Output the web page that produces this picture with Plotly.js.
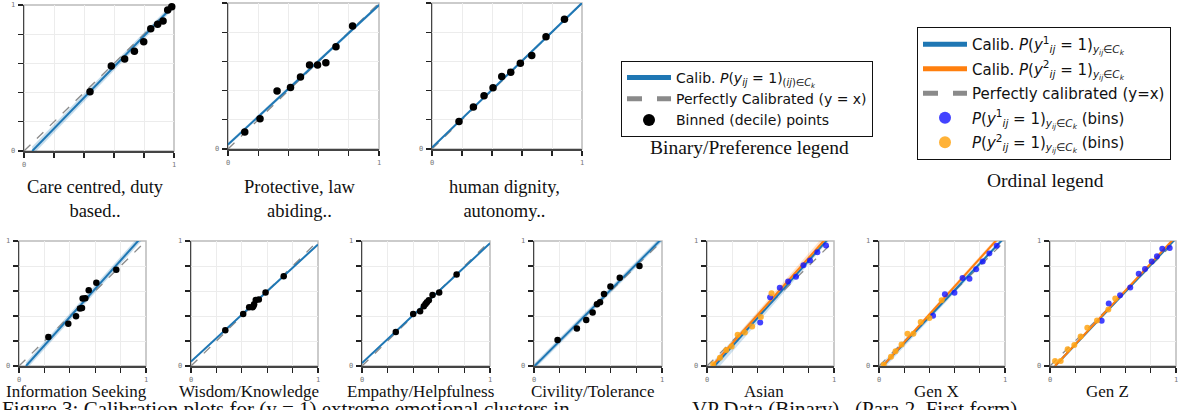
<!DOCTYPE html>
<html><head><meta charset="utf-8">
<script src="https://cdn.plot.ly/plotly-3.0.1.min.js"></script>
<style>html,body{margin:0;padding:0;background:#fff;}#chart{width:1182px;height:410px;}</style>
</head><body><div id="chart"></div>
<script>
// ---------------- DATA ----------------
const panelTitles = ["Care centred, duty<br>based..", "Protective, law<br>abiding..", "human dignity,<br>autonomy..",
  "Information Seeking", "Wisdom/Knowledge", "Empathy/Helpfulness", "Civility/Tolerance", "Asian", "Gen X", "Gen Z"];

// binary panels: binned (decile) points
const careX = [0.44,0.582,0.671,0.736,0.798,0.845,0.891,0.927,0.958,0.985];
const careY = [0.406,0.582,0.63,0.683,0.749,0.838,0.868,0.89,0.966,0.988];
const protX = [0.111,0.212,0.325,0.414,0.48,0.54,0.593,0.648,0.715,0.825];
const protY = [0.116,0.207,0.398,0.422,0.494,0.576,0.576,0.59,0.70,0.843];
const dignX = [0.18,0.276,0.347,0.407,0.465,0.525,0.589,0.665,0.76,0.883];
const dignY = [0.189,0.287,0.364,0.419,0.497,0.526,0.588,0.64,0.768,0.889];
const infoX = [0.231,0.388,0.449,0.48,0.496,0.501,0.522,0.549,0.609,0.766];
const infoY = [0.233,0.339,0.398,0.46,0.465,0.54,0.543,0.607,0.666,0.77];
const wisdX = [0.27,0.411,0.458,0.485,0.492,0.497,0.51,0.534,0.587,0.73];
const wisdY = [0.286,0.417,0.47,0.47,0.48,0.494,0.529,0.532,0.588,0.719];
const empX  = [0.264,0.40,0.454,0.483,0.496,0.507,0.522,0.551,0.603,0.739];
const empY  = [0.273,0.417,0.439,0.479,0.497,0.511,0.527,0.569,0.588,0.732];
const civX  = [0.184,0.335,0.408,0.458,0.492,0.516,0.547,0.597,0.67,0.824];
const civY  = [0.209,0.30,0.369,0.428,0.495,0.511,0.577,0.636,0.706,0.80];

// binary calibration fits: [start, end] and CI half-widths
const careFitX = [0.055,1], careFitY = [0,1.0],  careBand = [0.03,0.022];
const protFitX = [0,1],     protFitY = [0.03,0.986], protBand = [0.012,0.012];
const dignFitX = [0,1],     dignFitY = [0.01,1.0],  dignBand = [0.01,0.01];
const infoFitX = [0.055,1], infoFitY = [0,1.071], infoBand = [0.03,0.03];
const wisdFitX = [0,1],     wisdFitY = [0.035,0.973], wisdBand = [0.008,0.008];
const empFitX  = [0,1],     empFitY  = [0.024,0.982], empBand = [0.008,0.008];
const civFitX  = [0.005,1], civFitY  = [0,1.02],  civBand = [0.025,0.025];

// ordinal panels: bins for level 1 (blue) and level 2 (orange)
const asianB1X = [0.419,0.497,0.573,0.639,0.701,0.759,0.811,0.869,0.937];
const asianB1Y = [0.349,0.551,0.626,0.677,0.715,0.806,0.844,0.911,0.965];
const asianB2X = [0.049,0.102,0.152,0.194,0.241,0.298,0.356,0.424,0.508];
const asianB2Y = [0.014,0.067,0.129,0.156,0.25,0.269,0.317,0.393,0.583];
const genXB1X = [0.429,0.523,0.599,0.663,0.718,0.771,0.823,0.876,0.934];
const genXB1Y = [0.403,0.575,0.586,0.704,0.699,0.774,0.836,0.901,0.962];
const genXB2X = [0.037,0.095,0.131,0.179,0.226,0.273,0.331,0.40,0.497];
const genXB2Y = [0.011,0.075,0.118,0.172,0.258,0.258,0.352,0.385,0.527];
const genZB1X = [0.41,0.466,0.556,0.637,0.704,0.754,0.807,0.849,0.891,0.95];
const genZB1Y = [0.363,0.50,0.567,0.629,0.739,0.777,0.836,0.879,0.938,0.944];
const genZB2X = [0.04,0.085,0.14,0.193,0.243,0.296,0.373,0.463,0.518];
const genZB2Y = [0.04,0.04,0.135,0.169,0.236,0.306,0.365,0.452,0.54];

// ordinal fits
const asianF1X = [0.06,1], asianF1Y = [0,1.07],  asianF1Band = [0.05,0.02];
const asianF2X = [0.04,1], asianF2Y = [0,1.093], asianF2Band = [0.02,0.04];
const genXF1X = [0.03,1],  genXF1Y = [0,1.032],  genXF1Band = [0.03,0.015];
const genXF2X = [0.03,1],  genXF2Y = [0,1.083],  genXF2Band = [0.015,0.02];
const genZF1X = [0.04,1],  genZF1Y = [0,1.021],  genZF1Band = [0.015,0.01];
const genZF2X = [0.04,1],  genZF2Y = [0,1.037],  genZF2Band = [0.01,0.012];

const diagX = [0,1], diagY = [0,1];

// ---------------- LAYOUT GEOMETRY (pixels) ----------------
const W = 1182, H = 410;
const boxes = [
  [24,174,5,151],[228,379,3,149],[432,582,3,149],
  [19,146,241,366],[191,318,241,366],[362,490,241,366],[534,662,241,366],
  [707,834,241,366],[879,1005,241,366],[1050,1176,241,366]
];
const BLUE = '#1f77b4', ORANGE = '#ff7f0e';

const traces = [];
const layout = {
  width: W, height: H, margin:{l:0,r:0,t:0,b:0},
  paper_bgcolor:'#fff', plot_bgcolor:'#fff',
  showlegend: true, annotations: [], shapes: [],
  font:{family:'DejaVu Sans', color:'#000'}
};

function ax(i){ return i===0 ? '' : String(i+1); }
let gid = 0;
function leg(name, which, rank){ gid++; return {showlegend:true, legend:which, legendrank:rank, legendgroup:'g'+gid, name:name}; }

function band(i, fx, fy, w, color){
  const s = ax(i);
  traces.push({type:'scatter', mode:'lines', xaxis:'x'+s, yaxis:'y'+s,
    x:[fx[0],fx[1],fx[1],fx[0],fx[0]], y:[fy[0]+w[0],fy[1]+w[1],fy[1]-w[1],fy[0]-w[0],fy[0]+w[0]],
    fill:'toself', fillcolor:color, line:{width:0}, showlegend:false, hoverinfo:'skip'});
}
function line(i, fx, fy, color, opts){
  const s = ax(i);
  traces.push(Object.assign({type:'scatter', mode:'lines', xaxis:'x'+s, yaxis:'y'+s,
    x:fx, y:fy, line:{color:color, width:2}, showlegend:false}, opts||{}));
}
function diag(i, opts){
  const s = ax(i);
  traces.push(Object.assign({type:'scatter', mode:'lines', xaxis:'x'+s, yaxis:'y'+s,
    x:diagX, y:diagY, line:{color:'#8a8a8a', width:1.3, dash:'dash'}, showlegend:false}, opts||{}));
}
function pts(i, x, y, color, size, opts){
  const s = ax(i);
  traces.push(Object.assign({type:'scatter', mode:'markers', xaxis:'x'+s, yaxis:'y'+s,
    x:x, y:y, marker:{color:color, size:size, line:{width:0}}, cliponaxis:false, showlegend:false}, opts||{}));
}

// binary panels
const binData = [
  [careX,careY,careFitX,careFitY,careBand],
  [protX,protY,protFitX,protFitY,protBand],
  [dignX,dignY,dignFitX,dignFitY,dignBand],
  [infoX,infoY,infoFitX,infoFitY,infoBand],
  [wisdX,wisdY,wisdFitX,wisdFitY,wisdBand],
  [empX,empY,empFitX,empFitY,empBand],
  [civX,civY,civFitX,civFitY,civBand]
];
binData.forEach((d,i)=>{
  const first = i===0;
  band(i, d[2], d[3], d[4], 'rgba(31,119,180,0.25)');
  diag(i, first ? leg('Perfectly Calibrated (y = x)','legend',2) : {});
  line(i, d[2], d[3], BLUE, first ? leg('Calib. <i>P</i>(<i>y<sub>ij</sub></i> = 1)<sub>(<i>ij</i>)∈<i>C<sub>k</sub></i></sub>','legend',1) : {});
  pts(i, d[0], d[1], '#000', i<3 ? 7.5 : 6.5, first ? leg('Binned (decile) points','legend',3) : {});
});

// ordinal panels
const ordData = [
  [asianB1X,asianB1Y,asianB2X,asianB2Y,asianF1X,asianF1Y,asianF1Band,asianF2X,asianF2Y,asianF2Band],
  [genXB1X,genXB1Y,genXB2X,genXB2Y,genXF1X,genXF1Y,genXF1Band,genXF2X,genXF2Y,genXF2Band],
  [genZB1X,genZB1Y,genZB2X,genZB2Y,genZF1X,genZF1Y,genZF1Band,genZF2X,genZF2Y,genZF2Band]
];
const sub = '<sub><i>y<sub>ij</sub></i>∈<i>C<sub>k</sub></i></sub>';
ordData.forEach((d,k)=>{
  const i = 7+k, first = k===0;
  band(i, d[4], d[5], d[6], 'rgba(31,119,180,0.22)');
  band(i, d[7], d[8], d[9], 'rgba(255,127,14,0.22)');
  diag(i, first ? leg('Perfectly calibrated (y=x)','legend2',3) : {});
  line(i, d[4], d[5], BLUE, first ? leg('Calib. <i>P</i>(<i>y</i><sup>1</sup><sub><i>ij</i></sub> = 1)'+sub,'legend2',1) : {});
  line(i, d[7], d[8], ORANGE, first ? leg('Calib. <i>P</i>(<i>y</i><sup>2</sup><sub><i>ij</i></sub> = 1)'+sub,'legend2',2) : {});
  pts(i, d[0], d[1], 'rgba(20,20,255,0.8)', 6, first ? leg('<i>P</i>(<i>y</i><sup>1</sup><sub><i>ij</i></sub> = 1)'+sub+' (bins)','legend2',4) : {});
  pts(i, d[2], d[3], 'rgba(255,165,20,0.85)', 6, first ? leg('<i>P</i>(<i>y</i><sup>2</sup><sub><i>ij</i></sub> = 1)'+sub+' (bins)','legend2',5) : {});
});

// axes
const tv = [0,0.2,0.4,0.6,0.8,1], tt = ['0','','','','','1'];
boxes.forEach((b,i)=>{
  const s = ax(i);
  const common = {range:[0,1], tickvals:tv, ticktext:tt, ticks:'outside', ticklen:5, tickwidth:1.2, tickcolor:'#222',
    showline:true, linecolor:'#444', linewidth:1.5, showgrid:true, gridcolor:'#ececec', gridwidth:1,
    zeroline:false, fixedrange:true, tickfont:{family:'DejaVu Sans Mono', size:7, color:'#777'}, ticklabelstandoff:1};
  layout['xaxis'+s] = Object.assign({}, common, {domain:[b[0]/W, b[1]/W], anchor:'y'+s});
  layout['yaxis'+s] = Object.assign({}, common, {domain:[1-b[3]/H, 1-b[2]/H], anchor:'x'+s});
  layout.shapes.push({type:'rect', xref:'x'+s+' domain', yref:'y'+s+' domain', x0:0, x1:1, y0:0, y1:1,
    line:{color:'#bbbbbb', width:1.5}, layer:'below'});
  const top = i<3;
  layout.annotations.push({xref:'paper', yref:'paper', x:((b[0]+b[1])/2 - (top?3:6))/W,
    y: 1-(top?175:380)/H, yanchor:'top', xanchor:'center', showarrow:false, text:panelTitles[i],
    font:{family:'Liberation Serif', size: top?18.5:17, color:'#111'}});
});

// legend captions
layout.annotations.push({xref:'paper', yref:'paper', x:749/W, y:1-147/H, xanchor:'center', yanchor:'middle',
  showarrow:false, text:'Binary/Preference legend', font:{family:'Liberation Serif', size:19.5, color:'#111'}});
layout.annotations.push({xref:'paper', yref:'paper', x:1045/W, y:1-181/H, xanchor:'center', yanchor:'middle',
  showarrow:false, text:'Ordinal legend', font:{family:'Liberation Serif', size:19.5, color:'#111'}});
// figure caption (cut off at the bottom edge)
layout.annotations.push({xref:'paper', yref:'paper', x:0, y:1-395/H, xanchor:'left', yanchor:'top',
  showarrow:false, text:'Figure 3: Calibration plots for (y = 1) extreme emotional clusters in',
  font:{family:'Liberation Serif', size:21, color:'#111'}});
layout.annotations.push({xref:'paper', yref:'paper', x:690/W, y:1-395/H, xanchor:'left', yanchor:'top',
  showarrow:false, text:'VP Data (Binary)   (Para 2, First form)',
  font:{family:'Liberation Serif', size:21, color:'#111'}});

layout.legend = {x:621/W, y:1-61/H, xanchor:'left', yanchor:'top', bgcolor:'#fff', bordercolor:'#111', borderwidth:1,
  font:{family:'DejaVu Sans', size:14, color:'#111'}, itemsizing:'constant', itemwidth:44,
  traceorder:'normal', tracegroupgap:0};
layout.legend2 = {x:917/W, y:1-27/H, xanchor:'left', yanchor:'top', bgcolor:'#fff', bordercolor:'#111', borderwidth:1,
  font:{family:'DejaVu Sans', size:15, color:'#111'}, itemsizing:'constant', itemwidth:44,
  traceorder:'grouped', tracegroupgap:2};

Plotly.newPlot('chart', traces, layout, {staticPlot:true, displayModeBar:false});
</script></body></html>
